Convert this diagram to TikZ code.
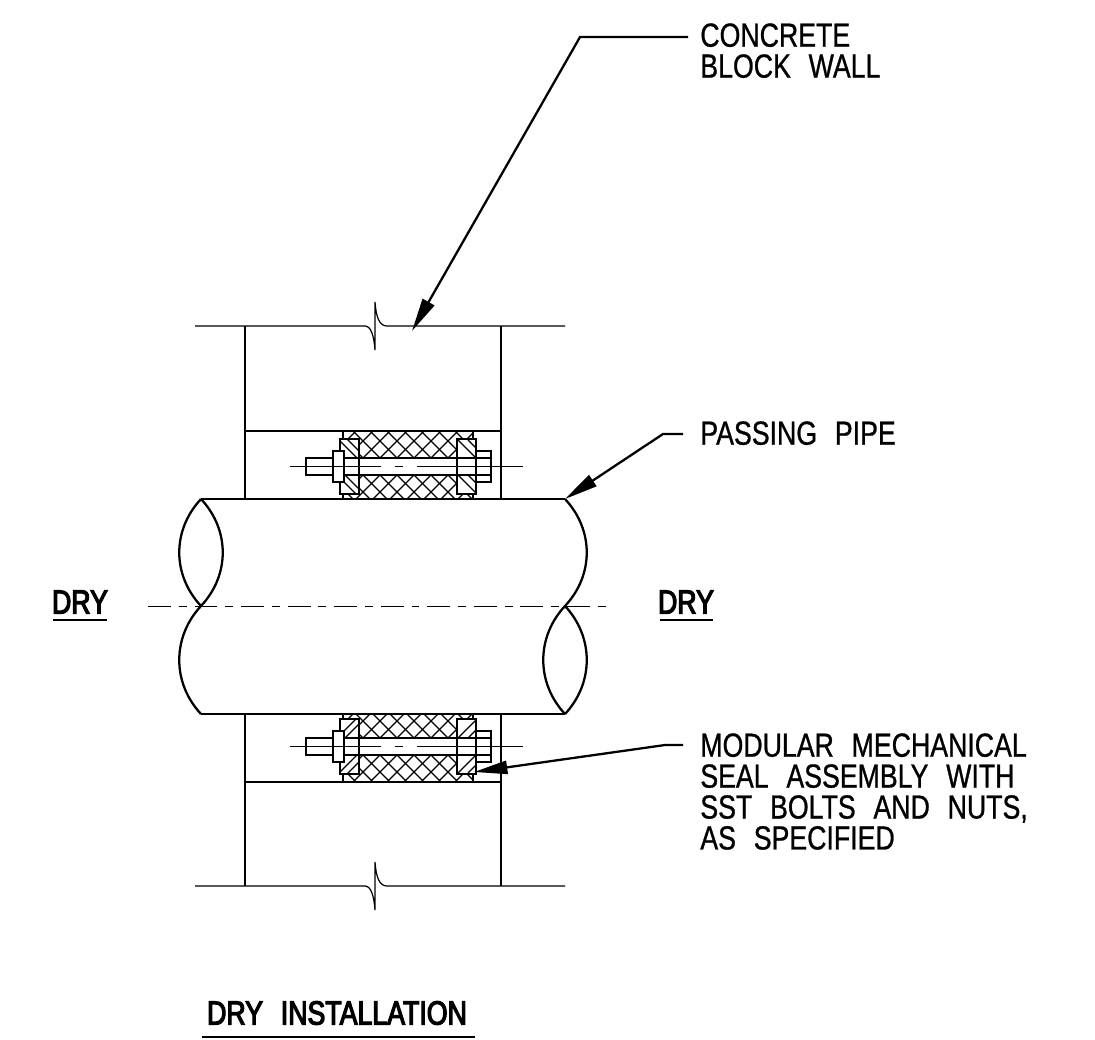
\documentclass[tikz,border=0pt]{standalone}
\usepackage{fontspec}
\setmainfont[FakeStretch=0.8,WordSpace=2.4,FakeBold=0.8]{Liberation Sans}
\newfontfamily\titlefont[FakeStretch=0.8,WordSpace=2.4,FakeBold=3.5]{Liberation Sans}
\usetikzlibrary{arrows.meta}
\begin{document}
\begin{tikzpicture}[x=0.02cm,y=-0.02cm,
    myline/.style = {line width=1.05pt},
    mypipe/.style = {line width=1.3pt},
    mythin/.style = {line width=0.7pt},
    mycentre/.style = {line width=0.5pt},
    myleader/.style = {line width=1.3pt, -{Triangle[length=19pt,width=7.5pt]}},
    mylabel/.style = {anchor=north west, inner sep=0pt, align=left, font=\fontsize{19}{17.6}\selectfont},
    mytitle/.style = {inner sep=0pt, font=\fontsize{19}{20}\titlefont}
  ]
  \useasboundingbox (0,0) rectangle (1095,1039);

  % wall
  \foreach \y in {326,886}{ % loop over broken lines
      \draw[mythin] (195,\y) -- (365,\y) .. controls (371,\y) and (374,\y+10) .. (375,\y+24)
        -- (375,\y-24) .. controls (376,\y-10) and (379,\y) .. (387,\y) -- (565,\y);
    }
  \draw[myline] (245,326) -- (245,499) (501,326) -- (501,499);
  \draw[myline] (245,714) -- (245,886) (501,714) -- (501,886);

  % seal assemblies, above and below the pipe
  \foreach \s in {1,-1}{
      \begin{scope}[shift={(0,606.5)},yscale=\s]
        \draw[mypipe] (245,-175.5) -- (501,-175.5);
        \begin{scope}
          \clip (343,-175.5) rectangle (473,-107.5);
          \foreach \h in {200,217,...,540}{ % loop over hatch lines
              \draw[mythin] (\h,-175.5) -- (\h+68,-107.5);
              \draw[mythin] (\h+3,-175.5) -- (\h-65,-107.5);
            }
        \end{scope}
        \draw[myline] (343,-175.5) -- (343,-107.5) (473,-175.5) -- (473,-107.5);
        % bolt
        \draw[myline,fill=white] (344,-148.5) rectangle (457,-131.5);
        \draw[myline,fill=white] (306,-148.5) rectangle (333,-131.5);
        \draw[mythin] (476,-148.5) -- (491,-148.5) (476,-131.5) -- (491,-131.5);
        \draw[myline] (476,-155.5) -- (491,-155.5) -- (491,-124.5) -- (476,-124.5);
        \foreach \xa/\xb in {340/359,457/476}{ % loop over flanges
            \draw[mypipe,fill=white] (\xa,-167.5) rectangle (\xb,-112.5);
            \draw[myline] (\xa,-148.5) -- (\xb,-148.5) (\xa,-131.5) -- (\xb,-131.5);
          }
        \draw[mythin] (347,-167.5) -- (359,-155.5) (340,-165.5) -- (357,-148.5);
        \draw[mythin] (345,-131.5) -- (359,-117.5) (340,-128.5) -- (356,-112.5);
        \draw[mythin] (458,-166.5) -- (475,-149.5) (468,-166.5) -- (476,-158.5);
        \draw[mythin] (458,-131.5) -- (476,-113.5) (468,-131.5) -- (476,-123.5);
        \draw[myline,fill=white] (333,-155.5) rectangle (344,-124.5);
        \draw[mycentre] (290,-140) -- (381,-140) (395,-140) -- (403,-140) (417,-140) -- (523,-140);
      \end{scope}
    }

  % pipe
  \draw[mypipe] (201,499) -- (565,499) (201,714) -- (565,714);
  \foreach \x/\b in {201/-29,201/29,565/29}{ % loop over upper ends
      \draw[mypipe] (\x,499) .. controls (\x+\b,530) and (\x+\b,575) .. (\x,606);
    }
  \foreach \x/\b in {201/-29,565/-29,565/29}{ % loop over lower ends
      \draw[mypipe] (\x,606) .. controls (\x+\b,637) and (\x+\b,683) .. (\x,714);
    }
  \draw[mycentre,dash pattern=on 13pt off 4.5pt on 4.5pt off 4.5pt] (148,606) -- (612,606);

  % labels
  \node[mylabel] (wall) at (700,23) {CONCRETE\\BLOCK WALL};
  \node[mylabel] (pipe) at (700,421) {PASSING PIPE};
  \node[mylabel] (seal) at (700,733) {MODULAR MECHANICAL\\SEAL ASSEMBLY WITH\\SST BOLTS AND NUTS,\\AS SPECIFIED};
  \node[mytitle] (dryl) at (80,602) {DRY};
  \node[mytitle] (dryr) at (686,602) {DRY};
  \node[mytitle] (title) at (337,1013) {DRY INSTALLATION};
  \draw[mypipe] (53,620) -- (107,620);
  \draw[mypipe] (660,620) -- (713,620);
  \draw[mypipe] (202,1037) -- (475,1037);

  % leaders
  \coordinate (wallend) at (412,331);
  \coordinate (pipeend) at (565,499);
  \coordinate (sealend) at (474,772);
  \draw[myleader] (wall.west |- 0,37) ++(-12,0) -- (580,37) -- (wallend);
  \draw[myleader] (pipe.west |- 0,434) ++(-17,0) -- (663,434) -- (pipeend);
  \draw[myleader] (seal.west |- 0,745) ++(-17,0) -- (665,745) -- (sealend);
\end{tikzpicture}
\end{document}
